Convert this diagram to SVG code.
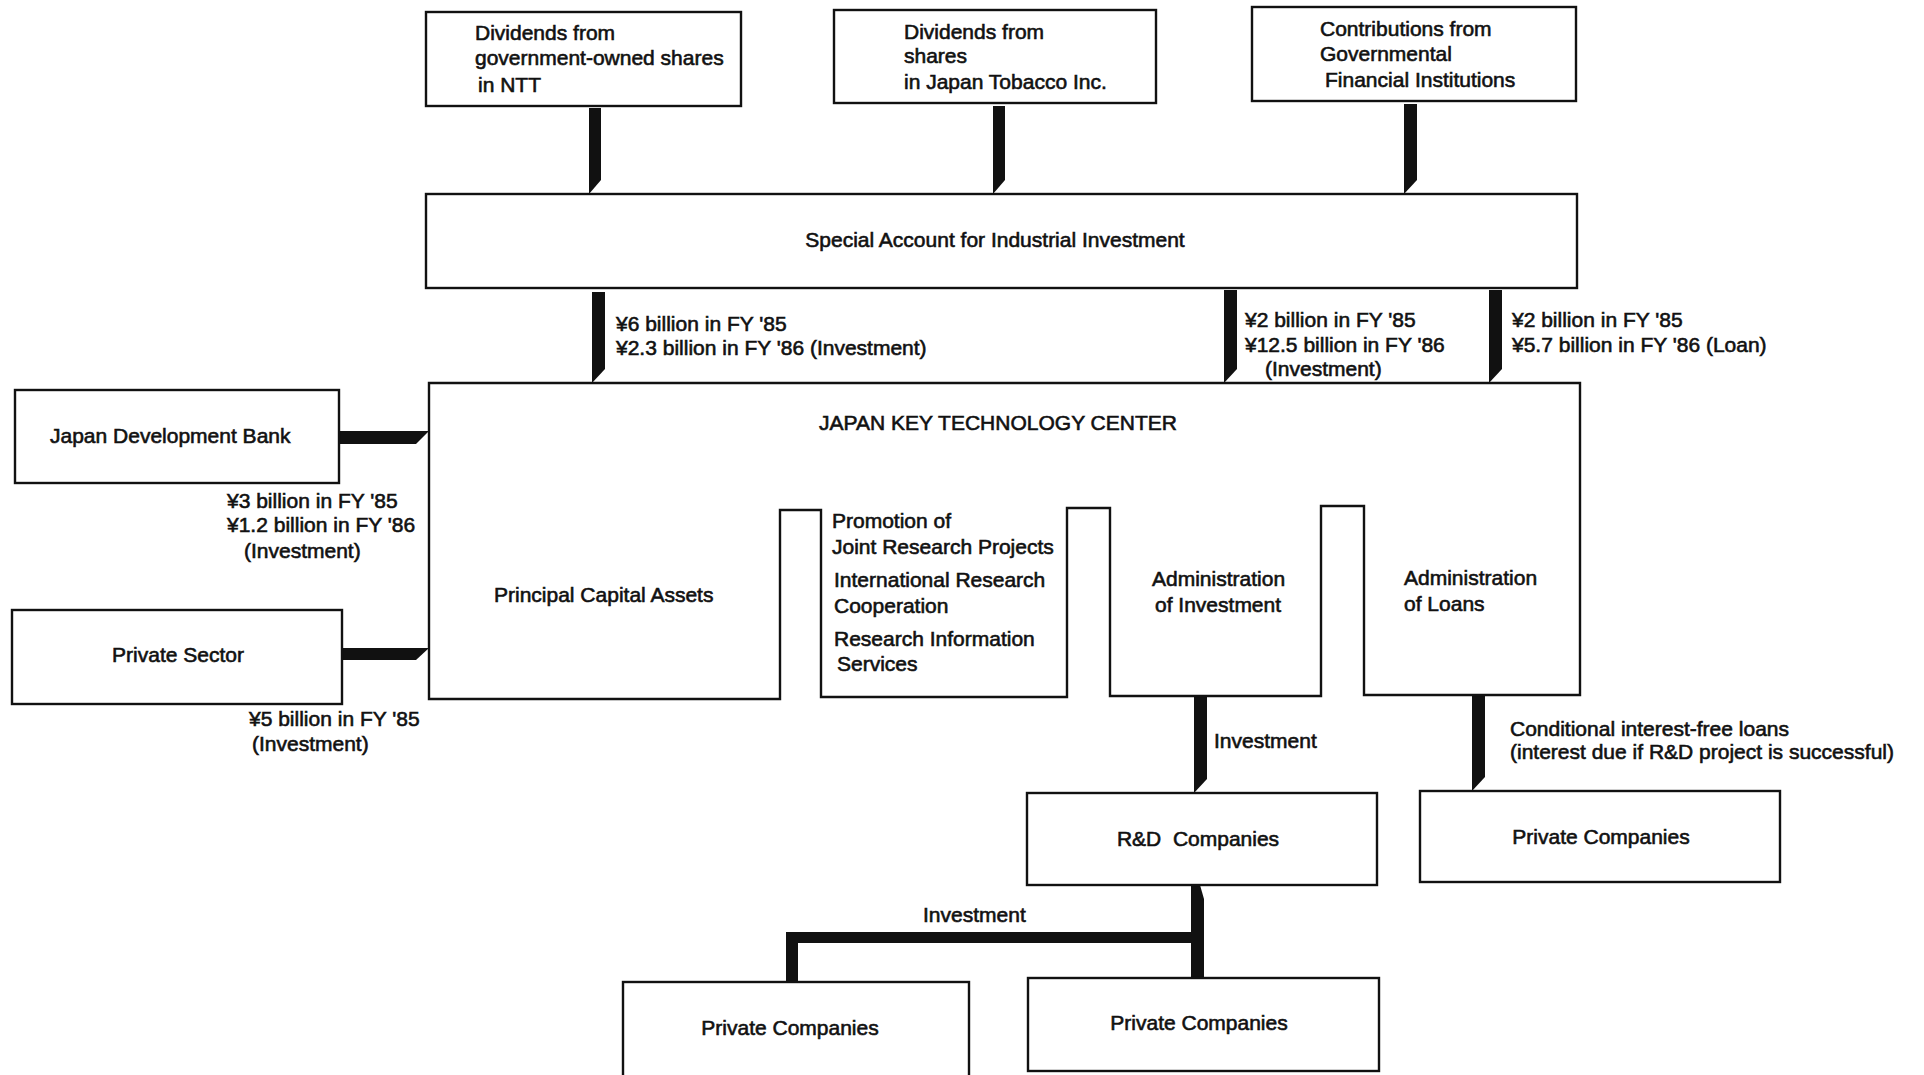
<svg xmlns="http://www.w3.org/2000/svg" width="1924" height="1075" viewBox="0 0 1924 1075">
<style>
.box{fill:#fff;stroke:#111;stroke-width:2.4}
.bar{fill:#111}
.t{font-family:"Liberation Sans",Arial,sans-serif;font-size:21px;fill:#111;stroke:#111;stroke-width:0.6}
.c{text-anchor:middle}
.pre{white-space:pre}
</style>
<rect x="0" y="0" width="1924" height="1075" fill="#fff"/>

<g id="connectors">
  <!-- top sources to Special Account -->
  <polygon class="bar" points="589,108 601,108 601,180 589,194"/>
  <polygon class="bar" points="993,106 1005,106 1005,180 993,194"/>
  <polygon class="bar" points="1404,104 1417,104 1417,180 1404,194"/>
  <!-- Special Account to JKTC -->
  <polygon class="bar" points="592,292 605,292 605,369 592,383"/>
  <polygon class="bar" points="1224,290 1237,290 1237,369 1224,383"/>
  <polygon class="bar" points="1489,290 1502,290 1502,369 1489,383"/>
  <!-- left sources to JKTC -->
  <polygon class="bar" points="339,431 429,431 416,444 339,444"/>
  <polygon class="bar" points="342,648 429,648 416,660 342,660"/>
  <!-- JKTC to R&D and private companies -->
  <polygon class="bar" points="1194,697 1207,697 1207,779 1194,793"/>
  <polygon class="bar" points="1472,695 1485,695 1485,777 1472,791"/>
  <!-- R&D to private companies tree -->
  <polygon class="bar" points="1191,885 1191,899 1191,977 1204,977 1204,899 1200,885"/>
  <rect class="bar" x="786" y="932" width="418" height="11"/>
  <rect class="bar" x="786" y="932" width="12" height="50"/>
</g>

<g id="ntt">
  <rect class="box" x="426" y="12" width="315" height="94"/>
  <text class="t" x="475" y="40">Dividends from</text>
  <text class="t" x="475" y="65">government-owned shares</text>
  <text class="t" x="478" y="92">in NTT</text>
</g>
<g id="jt">
  <rect class="box" x="834" y="10" width="322" height="93"/>
  <text class="t" x="904" y="39">Dividends from</text>
  <text class="t" x="904" y="63">shares</text>
  <text class="t" x="904" y="89">in Japan Tobacco Inc.</text>
</g>
<g id="gfi">
  <rect class="box" x="1252" y="7" width="324" height="94"/>
  <text class="t" x="1320" y="36">Contributions from</text>
  <text class="t" x="1320" y="61">Governmental</text>
  <text class="t" x="1325" y="87">Financial Institutions</text>
</g>
<g id="special-account">
  <rect class="box" x="426" y="194" width="1151" height="94"/>
  <text class="t c" x="995" y="247">Special Account for Industrial Investment</text>
</g>

<g id="labels-top">
  <text class="t" x="616" y="331">¥6 billion in FY '85</text>
  <text class="t" x="616" y="355">¥2.3 billion in FY '86 (Investment)</text>
  <text class="t" x="1245" y="327">¥2 billion in FY '85</text>
  <text class="t" x="1245" y="352">¥12.5 billion in FY '86</text>
  <text class="t" x="1265" y="376">(Investment)</text>
  <text class="t" x="1512" y="327">¥2 billion in FY '85</text>
  <text class="t" x="1512" y="352">¥5.7 billion in FY '86 (Loan)</text>
</g>

<g id="jktc">
  <path class="box" d="M429,383 H1580 V695 H1364 V506 H1321 V696 H1110 V508 H1067 V697 H821 V510 H780 V699 H429 Z"/>
  <text class="t c" x="998" y="430">JAPAN KEY TECHNOLOGY CENTER</text>
  <text class="t" x="494" y="602">Principal Capital Assets</text>
  <text class="t" x="832" y="528">Promotion of</text>
  <text class="t" x="832" y="554">Joint Research Projects</text>
  <text class="t" x="834" y="587">International Research</text>
  <text class="t" x="834" y="613">Cooperation</text>
  <text class="t" x="834" y="646">Research Information</text>
  <text class="t" x="837" y="671">Services</text>
  <text class="t" x="1152" y="586">Administration</text>
  <text class="t" x="1155" y="612">of Investment</text>
  <text class="t" x="1404" y="585">Administration</text>
  <text class="t" x="1404" y="611">of Loans</text>
</g>

<g id="jdb">
  <rect class="box" x="15" y="390" width="324" height="93"/>
  <text class="t" x="50" y="443">Japan Development Bank</text>
</g>
<g id="labels-jdb">
  <text class="t" x="227" y="508">¥3 billion in FY '85</text>
  <text class="t" x="227" y="532">¥1.2 billion in FY '86</text>
  <text class="t" x="244" y="558">(Investment)</text>
</g>
<g id="private-sector">
  <rect class="box" x="12" y="610" width="330" height="94"/>
  <text class="t c" x="178" y="662">Private Sector</text>
</g>
<g id="labels-ps">
  <text class="t" x="249" y="726">¥5 billion in FY '85</text>
  <text class="t" x="252" y="751">(Investment)</text>
</g>

<g id="labels-bottom">
  <text class="t" x="1214" y="748">Investment</text>
  <text class="t" x="1510" y="736">Conditional interest-free loans</text>
  <text class="t" x="1510" y="759">(interest due if R&amp;D project is successful)</text>
  <text class="t" x="923" y="922">Investment</text>
</g>

<g id="rd-companies">
  <rect class="box" x="1027" y="793" width="350" height="92"/>
  <text class="t c pre" x="1198" y="846">R&amp;D  Companies</text>
</g>
<g id="private-companies-loans">
  <rect class="box" x="1420" y="791" width="360" height="91"/>
  <text class="t c" x="1601" y="844">Private Companies</text>
</g>
<g id="private-companies-left">
  <rect class="box" x="623" y="982" width="346" height="96"/>
  <text class="t c" x="790" y="1035">Private Companies</text>
</g>
<g id="private-companies-right">
  <rect class="box" x="1028" y="978" width="351" height="93"/>
  <text class="t c" x="1199" y="1030">Private Companies</text>
</g>
</svg>
